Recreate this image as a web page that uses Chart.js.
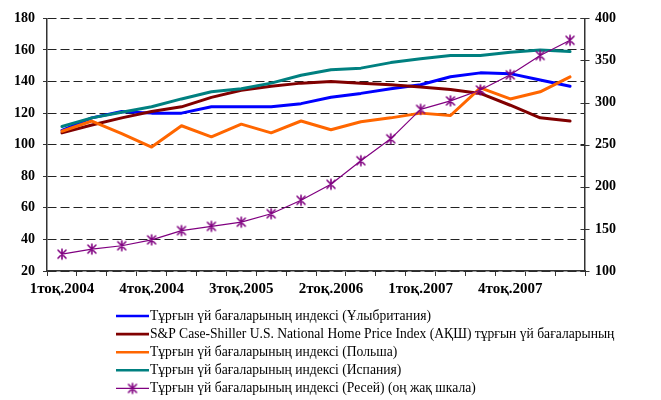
<!DOCTYPE html>
<html>
<head>
<meta charset="utf-8">
<script src="https://cdn.jsdelivr.net/npm/chart.js@4/dist/chart.umd.min.js"></script>
<style>
  html, body { margin: 0; padding: 0; background: #fff; }
  #wrap { width: 661px; height: 400px; position: relative; }
</style>
</head>
<body>
<div id="wrap"><canvas id="c" width="661" height="400"></canvas></div>
<script>
// Quarterly house price indices, 2004–2008
const quarters = [
  '1тоқ.2004', '2тоқ.2004', '3тоқ.2004', '4тоқ.2004',
  '1тоқ.2005', '2тоқ.2005', '3тоқ.2005', '4тоқ.2005',
  '1тоқ.2006', '2тоқ.2006', '3тоқ.2006', '4тоқ.2006',
  '1тоқ.2007', '2тоқ.2007', '3тоқ.2007', '4тоқ.2007',
  '1тоқ.2008', '2тоқ.2008'
];
const ukIndex     = [109, 117, 121, 120, 120, 124, 124, 124, 126, 130, 132.5, 135.5, 138, 143, 145.5, 145, 141, 137];
const usIndex     = [107.5, 112.5, 117, 121, 124, 130, 134.5, 137, 139, 140, 139, 138, 136.5, 135, 132.5, 125, 117, 115];
const polandIndex = [108.5, 115, 107, 98.5, 112, 105, 113, 107.5, 115, 109.5, 114.5, 117, 120, 118.5, 136, 129, 133.5, 143];
const spainIndex  = [111.5, 117, 120.5, 124, 129, 133.5, 135.5, 139, 144, 147.5, 148.5, 152, 154.5, 156.5, 156.5, 158.5, 160, 159];
const russiaIndex = [120, 126, 130, 137, 148, 153, 158, 168, 184, 203, 231, 257, 292, 302, 315, 333, 356, 374];

const leftTicks  = { min: 20, max: 180, step: 20 };
const rightTicks = { min: 100, max: 400, step: 50 };

const seriesNames = [
  'Тұрғын үй бағаларының индексі (Ұлыбритания)',
  'S&P Case-Shiller U.S. National Home Price Index (АҚШ) тұрғын үй бағаларының',
  'Тұрғын үй бағаларының индексі (Польша)',
  'Тұрғын үй бағаларының индексі (Испания)',
  'Тұрғын үй бағаларының индексі (Ресей) (оң жақ шкала)'
];
const seriesColors = ['#0000FF', '#800000', '#FF6600', '#008080', '#800080'];

const serif = '"Liberation Serif", "Times New Roman", serif';
const axisFont = { family: serif, size: 14, weight: 'bold' };

// Six-armed asterisk marker (diagonal cross plus vertical bar)
function makeAsterisk(color, r) {
  const size = r * 2 + 4;
  const cv = document.createElement('canvas');
  cv.width = size; cv.height = size;
  const g = cv.getContext('2d');
  const c = size / 2;
  g.strokeStyle = color;
  g.lineWidth = 1.6;
  g.lineCap = 'round';
  g.beginPath();
  g.moveTo(c - r * 0.8, c - r * 0.8); g.lineTo(c + r * 0.8, c + r * 0.8);
  g.moveTo(c + r * 0.8, c - r * 0.8); g.lineTo(c - r * 0.8, c + r * 0.8);
  g.moveTo(c, c - r); g.lineTo(c, c + r);
  g.stroke();
  return cv;
}
const asterisk = makeAsterisk(seriesColors[4], 5);

// Key below the plot: one row per series, line sample + name
const seriesKey = {
  id: 'seriesKey',
  afterDraw(chart) {
    const ctx = chart.ctx;
    ctx.save();
    ctx.font = '13.6px ' + serif;
    ctx.textBaseline = 'middle';
    chart.data.datasets.forEach((ds, i) => {
      const y = 316 + i * 18.1;
      const x0 = 116, x1 = 149;
      ctx.strokeStyle = ds.borderColor;
      ctx.lineWidth = ds.isRightScale ? 1.2 : 2.6;
      ctx.beginPath();
      ctx.moveTo(x0, y);
      ctx.lineTo(x1, y);
      ctx.stroke();
      if (ds.isRightScale) {
        ctx.drawImage(asterisk, (x0 + x1) / 2 - asterisk.width / 2, y - asterisk.height / 2);
      }
      ctx.fillStyle = '#000';
      ctx.fillText(ds.label, 150, y + 0.5);
    });
    ctx.restore();
  }
};

// Tick marks crossing the right-hand axis line
const crossTicks = {
  id: 'crossTicks',
  afterDraw(chart) {
    const s = chart.scales.y1;
    const ctx = chart.ctx;
    ctx.save();
    ctx.strokeStyle = '#333';
    ctx.lineWidth = 1.2;
    ctx.beginPath();
    s.ticks.forEach(t => {
      const y = Math.round(s.getPixelForValue(t.value)) + 0.5;
      ctx.moveTo(s.left - 4.5, y);
      ctx.lineTo(s.left + 4.5, y);
    });
    ctx.stroke();
    ctx.restore();
  }
};

const ctx = document.getElementById('c').getContext('2d');
new Chart(ctx, {
  type: 'line',
  data: {
    labels: quarters,
    datasets: [
      { label: seriesNames[0], data: ukIndex,     borderColor: seriesColors[0], yAxisID: 'y',  order: 4 },
      { label: seriesNames[1], data: usIndex,     borderColor: seriesColors[1], yAxisID: 'y',  order: 3 },
      { label: seriesNames[2], data: polandIndex, borderColor: seriesColors[2], yAxisID: 'y',  order: 2 },
      { label: seriesNames[3], data: spainIndex,  borderColor: seriesColors[3], yAxisID: 'y',  order: 1 },
      { label: seriesNames[4], data: russiaIndex, borderColor: seriesColors[4], yAxisID: 'y1', order: 0,
        isRightScale: true, borderWidth: 1.2, pointStyle: asterisk, pointRadius: 5 }
    ].map(ds => Object.assign({
      borderWidth: 3, pointRadius: 0, fill: false, tension: 0,
      backgroundColor: ds.borderColor, borderJoinStyle: 'round', borderCapStyle: 'round'
    }, ds))
  },
  options: {
    responsive: false,
    animation: false,
    layout: { padding: { top: 17, bottom: 99, left: 0, right: 0 } },
    plugins: { legend: { display: false }, tooltip: { enabled: false } },
    scales: {
      x: {
        offset: true,
        grid: { offset: true, drawOnChartArea: false, drawTicks: true, tickLength: 5, color: '#333', lineWidth: 1 },
        border: { color: '#333', width: 1.5 },
        ticks: {
          autoSkip: false, maxRotation: 0, minRotation: 0, padding: 4, color: '#000',
          font: { family: serif, size: 15, weight: 'bold' },
          callback: (v, i) => (i % 3 === 0 ? quarters[i] : '')
        },
        afterFit: s => { s.height = 30; }
      },
      y: {
        position: 'left',
        min: leftTicks.min, max: leftTicks.max,
        ticks: { stepSize: leftTicks.step, padding: 8, color: '#000', font: axisFont },
        grid: { color: '#222', lineWidth: 1, tickLength: 4, tickColor: '#333' },
        border: { color: '#333', width: 1.5, dash: [9, 4] },
        afterFit: s => { s.width = 47; }
      },
      y1: {
        position: 'right',
        min: rightTicks.min, max: rightTicks.max,
        ticks: { stepSize: rightTicks.step, padding: 10, color: '#000', font: axisFont },
        grid: { drawOnChartArea: false, drawTicks: false },
        border: { color: '#333', width: 1.5 },
        afterFit: s => { s.width = 76; }
      }
    }
  },
  plugins: [seriesKey, crossTicks]
});
</script>
</body>
</html>
